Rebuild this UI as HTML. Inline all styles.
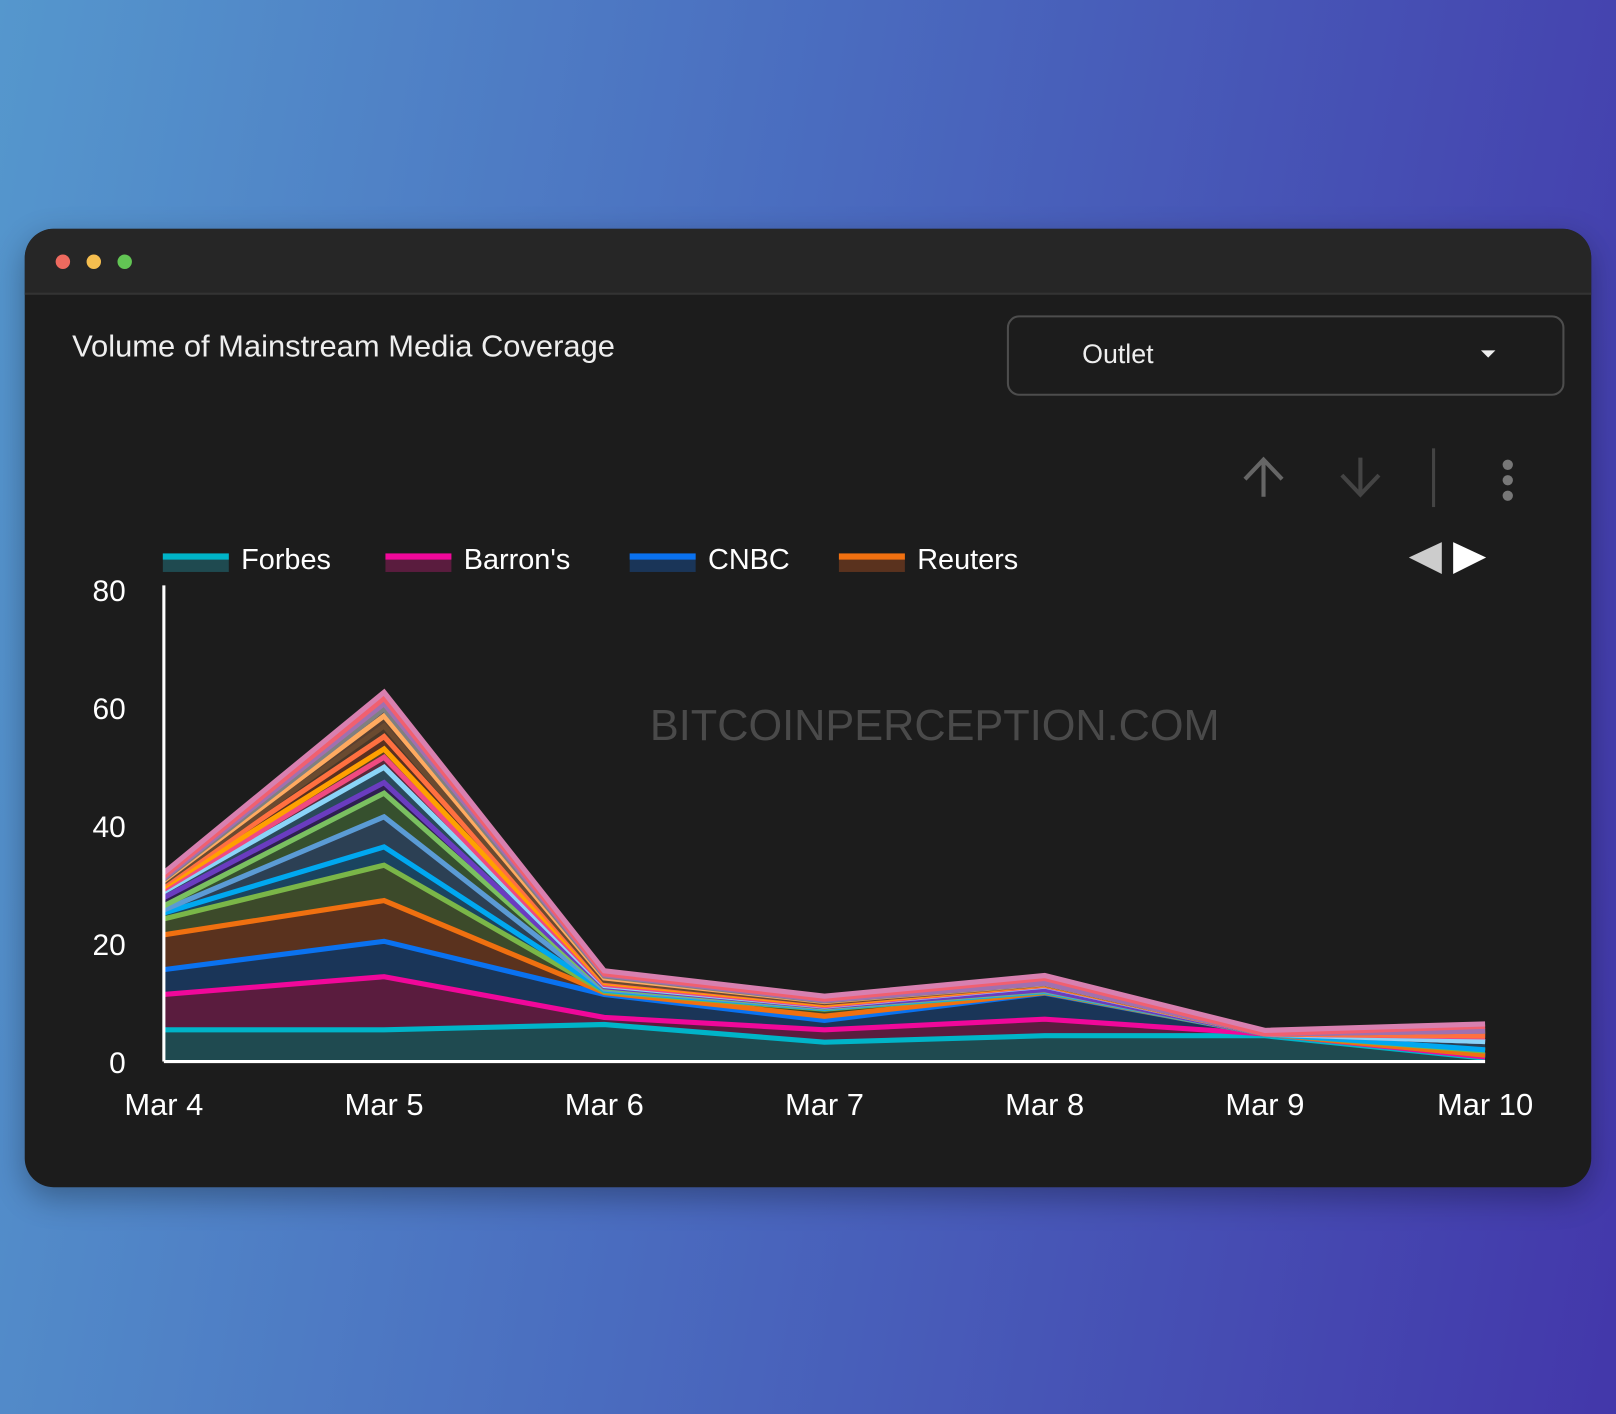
<!DOCTYPE html>
<html><head><meta charset="utf-8"><style>
html,body{margin:0;padding:0;width:1616px;height:1414px;overflow:hidden}
body{background:linear-gradient(100deg,#5597cd 0%,#4a6cbf 45%,#4337aa 100%);font-family:"Liberation Sans",sans-serif;position:relative}
#wrap{position:absolute;left:0;top:0;width:1568px;height:1372px;transform:scale(1.0306);transform-origin:0 0}
#win{position:absolute;left:24px;top:222px;width:1520px;height:930px;background:#1c1c1c;border-radius:28px;overflow:hidden;box-shadow:0 10px 30px rgba(0,0,0,.3)}
#bar{position:absolute;left:0;top:0;width:100%;height:62px;background:#262626;border-bottom:2px solid #333}
.dot{position:absolute;top:25px;width:14px;height:14px;border-radius:50%}
</style></head><body>
<div id="wrap">
<div id="win">
<div id="bar">
<div class="dot" style="left:30px;background:#ee6a5f"></div>
<div class="dot" style="left:60px;background:#f5be4f"></div>
<div class="dot" style="left:90px;background:#62c554"></div>
</div>
</div>
<svg id="chart" width="1568" height="1372" style="position:absolute;left:0;top:0">
<text x="70" y="346" fill="#eeeeee" font-size="30">Volume of Mainstream Media Coverage</text>
<g>
<rect x="978" y="307" width="539" height="76" rx="11" fill="none" stroke="#4d4d4d" stroke-width="2"/>
<text x="1050" y="352" fill="#eeeeee" font-size="26">Outlet</text>
<path d="M1437 340 L1451 340 L1444 347 Z" fill="#eee"/>
</g>
<g stroke="#666" stroke-width="4" fill="none"><path d="M1226 482 V446 M1208 465 L1226 446 L1244 465"/></g>
<g stroke="#444" stroke-width="4" fill="none"><path d="M1320 444 V480 M1302 461 L1320 480 L1338 461"/></g>
<line x1="1391" y1="435" x2="1391" y2="492" stroke="#444" stroke-width="3"/>
<g fill="#777"><circle cx="1463" cy="451" r="5"/><circle cx="1463" cy="466" r="5"/><circle cx="1463" cy="481" r="5"/></g>
<path d="M1367 541 L1399 526 L1399 557 Z" fill="#ccc"/>
<path d="M1410 526 L1442 541 L1410 557 Z" fill="#fff"/>
<text x="907" y="718" fill="#4a4a4a" font-size="42" text-anchor="middle">BITCOINPERCEPTION.COM</text>
<g id="layers"></g>
<g id="axes"></g>
<g id="legend"></g>
</svg>
</div>
<script>
const days=["Mar 4","Mar 5","Mar 6","Mar 7","Mar 8","Mar 9","Mar 10"];
const yTicks=[0,20,40,60,80];
const seriesNames=["Forbes","Barron's","CNBC","Reuters","Outlet 5","Outlet 6","Outlet 7","Outlet 8","Outlet 9","Outlet 10","Outlet 11","Outlet 12","Outlet 13","Outlet 14","Outlet 15","Outlet 16","Outlet 17","Outlet 18","Outlet 19"];
const forbes=[5.2,5.2,6.1,3.1,4.2,4.2,0.4];
const barrons=[6,9,1.2,2.1,2.8,0.3,0.2];
const cnbc=[4.2,6,3.9,1.6,4.4,0,0.3];
const reuters=[5.9,6.9,0.3,0.7,0.1,0,0];
const s5=[2.7,6,0.2,1.2,0.1,0,0.7];
const s6=[1,3.1,0.2,0.1,0.1,0,0.2];
const s7=[0.5,5.1,0.2,0.1,0.1,0,1.4];
const s8=[0.7,4,0.2,0.1,0.1,0,0];
const s9=[1.4,1.8,0.2,0.1,0.1,0,0];
const s10=[1,2.6,0.2,0.1,0.6,0,0];
const s11=[0.4,1.7,0.2,0.1,0.1,0,0.8];
const s12=[0.4,1.4,0.3,0.2,0.1,0,0.2];
const s13=[0.4,2.1,0.2,0.2,0.1,0,0];
const s14=[0.4,1.8,0.2,0.1,0.05,0,0.8];
const s15=[0.3,1.7,0.4,0.2,0.05,0,0];
const s16=[0.2,1.2,0.3,0.1,0.05,0,0];
const s17=[0.2,0.9,0.2,0.1,0.05,0,0];
const s18=[0.3,0.9,0.2,0.2,0.8,0,0.8];
const s19=[0.6,1,0.5,0.5,0.5,0.6,0.4];
const allSeries=[forbes,barrons,cnbc,reuters,s5,s6,s7,s8,s9,s10,s11,s12,s13,s14,s15,s16,s17,s18,s19];
const lineColors=["#00b4c8","#f0089a","#0a72f0","#f07010","#7ab648","#00a8f0","#5b9bd5","#7ac060","#6a3cc0","#8ad4f8","#f04a80","#ffa000","#ff7040","#6a4a30","#ffaa60","#808080","#a070b0","#f06070","#d880b0"];
const fillColors=["#1f4a50","#5a1c3e","#1a3558","#5a321e","#3c4a2a","#1a4460","#2c4054","#36502e","#2e2050","#2a4a5a","#5a2a3a","#5a4020","#5a3020","#4a3828","#5a4030","#3a3a3a","#4a3450","#5a2a30","#5a3a4a"];
const X0=159,X1=1441,Y0=1030,Y1=572,VMAX=80;
function xs(i){return X0+i*(X1-X0)/(days.length-1);}
function ys(v){return Y0-v*(Y0-Y1)/VMAX;}
const NS="http://www.w3.org/2000/svg";
const layers=document.getElementById('layers');
let base=days.map(()=>0);
allSeries.forEach((s,k)=>{
  const top=base.map((b,i)=>b+s[i]);
  let d="M"+days.map((_,i)=>xs(i)+" "+ys(top[i])).join(" L");
  for(let i=days.length-1;i>=0;i--) d+=" L"+xs(i)+" "+ys(base[i]);
  d+=" Z";
  const a=document.createElementNS(NS,'path');
  a.setAttribute('d',d);a.setAttribute('fill',fillColors[k]);
  
  
  layers.appendChild(a);
  base=top;
});
base=days.map(()=>0);
allSeries.forEach((s,k)=>{
  const top=base.map((b,i)=>b+s[i]);
  const l=document.createElementNS(NS,'polyline');
  l.setAttribute('points',days.map((_,i)=>xs(i)+","+(ys(top[i])-1)).join(" "));
  l.setAttribute('fill','none');l.setAttribute('stroke',lineColors[k]);l.setAttribute('stroke-width','5');
  
  
  layers.appendChild(l);
  base=top;
});
const axes=document.getElementById('axes');
function mk(tag,attrs,txt){const e=document.createElementNS(NS,tag);for(const k in attrs)e.setAttribute(k,attrs[k]);if(txt!==undefined)e.textContent=txt;axes.appendChild(e);return e;}
const ya=mk('line',{x1:X0,y1:Y1-4,x2:X0,y2:Y0,stroke:'#fff','stroke-width':3});


const xa=mk('line',{x1:X0,y1:Y0,x2:X1,y2:Y0,stroke:'#fff','stroke-width':3});


yTicks.forEach(t=>{
  const e=mk('text',{x:122,y:ys(t)+11,fill:'#fff','font-size':29,'text-anchor':'end'},String(t));
  
  
});
days.forEach((dd,i)=>{
  const e=mk('text',{x:xs(i),y:1082,fill:'#fff','font-size':30,'text-anchor':'middle'},dd);
  
  
});
const legend=document.getElementById('legend');
const legX=[158,374,611,814];
for(let k=0;k<4;k++){
  const g=document.createElementNS(NS,'g');
  
  
  g.innerHTML='<rect x="'+legX[k]+'" y="537" width="64" height="18" fill="'+fillColors[k]+'"/><rect x="'+legX[k]+'" y="537" width="64" height="6" fill="'+lineColors[k]+'"/><text x="'+(legX[k]+76)+'" y="552" fill="#fff" font-size="28">'+seriesNames[k]+'</text>';
  legend.appendChild(g);
}
</script>
</body></html>
